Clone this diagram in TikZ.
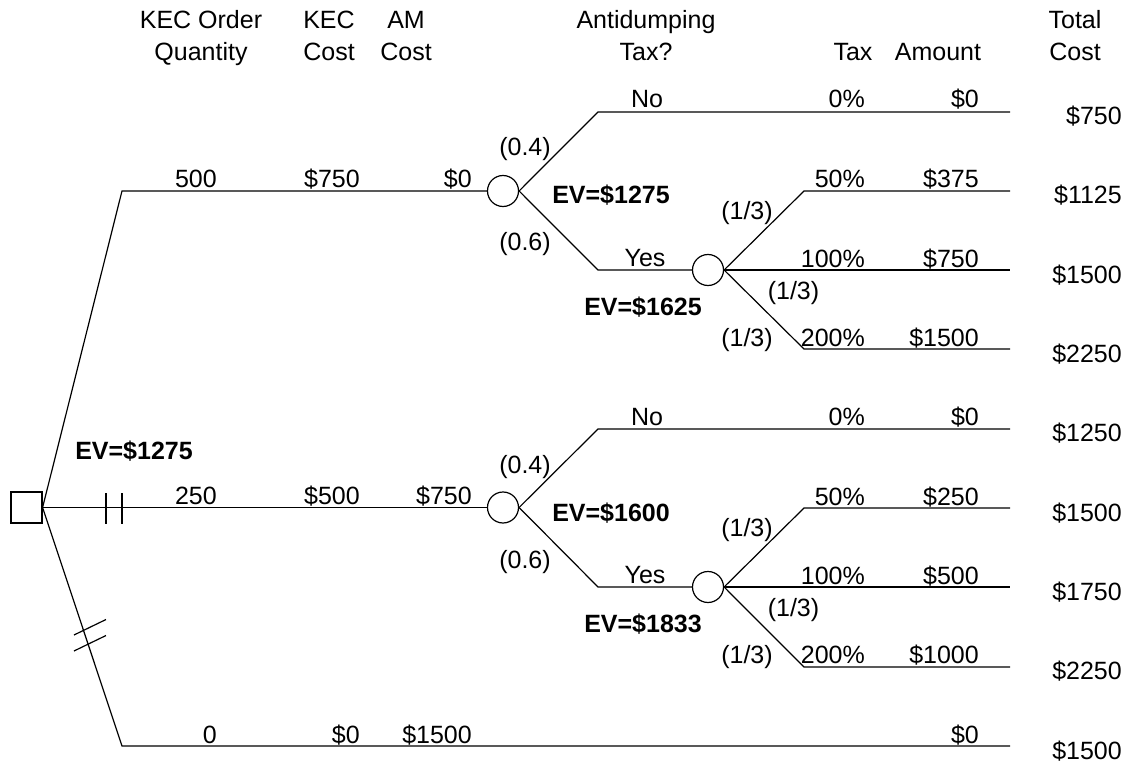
\documentclass[tikz,border=0pt]{standalone}
\usepackage{fontspec}
\setmainfont{Liberation Sans}
\begin{document}
\begin{tikzpicture}[x=1pt,y=-1pt,
  font=\fontsize{25}{32}\selectfont,
  br/.style={line width=1.2pt},
  lbl/.style={anchor=base east, inner sep=0pt},
  lblc/.style={anchor=base, inner sep=0pt},
  hdr/.style={anchor=base, inner sep=0pt, align=center},
  ev/.style={anchor=base, inner sep=0pt, font=\fontsize{25}{32}\selectfont\bfseries},
  chance/.style={circle, draw, line width=1.2pt, minimum size=31pt, inner sep=0pt},
  decision/.style={rectangle, draw, line width=1.2pt, minimum size=31pt, inner sep=0pt}]
\useasboundingbox (0,0) rectangle (1128,765);

% headers (base anchor = baseline of last line)
\node[hdr] (h1) at (201,61) {KEC Order\\Quantity};
\node[hdr] (h2) at (329,61) {KEC\\Cost};
\node[hdr] (h3) at (406,61) {AM\\Cost};
\node[hdr] (h4) at (646,61) {Antidumping\\Tax?};
\node[hdr] (h5) at (853,61) {Tax};
\node[hdr] (h6) at (938,61) {Amount};
\node[hdr] (h7) at (1075,61) {Total\\Cost};

% nodes
\node[decision] (d) at (26.5,507.5) {};
\node[chance] (c1) at (503,191) {};
\node[chance] (c2) at (708,270) {};
\node[chance] (c3) at (503,507.5) {};
\node[chance] (c4) at (708,587) {};

% bend and end coordinates
\coordinate (b1) at (122,191);
\coordinate (b3) at (122,746);
\coordinate (b3e) at (1010,746);
\coordinate (n1) at (598,112);
\coordinate (n1e) at (1010,112);
\coordinate (y1) at (598,270);
\coordinate (t1) at (804,191);
\coordinate (t1e) at (1010,191);
\coordinate (t2e) at (1010,270);
\coordinate (t3) at (804,349);
\coordinate (t3e) at (1010,349);
\coordinate (n2) at (598,429);
\coordinate (n2e) at (1010,429);
\coordinate (y2) at (598,587);
\coordinate (u1) at (804,508);
\coordinate (u1e) at (1010,508);
\coordinate (u2e) at (1010,587);
\coordinate (u3) at (804,667);
\coordinate (u3e) at (1010,667);

% branches
\draw[br] (d.east) -- (b1) -- (c1.west);
\draw[br] (d.east) -- (c3.west);
\draw[br] (d.east) -- (b3) -- (b3e);
\draw[br] (c1.east) -- (n1) -- (n1e);
\draw[br] (c1.east) -- (y1) -- (c2.west);
\draw[br] (c2.east) -- (t1) -- (t1e);
\draw[br] (c2.east) -- (t2e);
\draw[br] (c2.east) -- (t3) -- (t3e);
\draw[br] (c3.east) -- (n2) -- (n2e);
\draw[br] (c3.east) -- (y2) -- (c4.west);
\draw[br] (c4.east) -- (u1) -- (u1e);
\draw[br] (c4.east) -- (u2e);
\draw[br] (c4.east) -- (u3) -- (u3e);

% blocking ticks
\coordinate (k1a) at (106,493); \coordinate (k1b) at (106,524);
\coordinate (k2a) at (122,493); \coordinate (k2b) at (122,524);
\coordinate (k3a) at (74,635);  \coordinate (k3b) at (106,619.5);
\coordinate (k4a) at (74,651);  \coordinate (k4b) at (106,635.5);
\draw[br] (k1a) -- (k1b);
\draw[br] (k2a) -- (k2b);
\draw[br] (k3a) -- (k3b);
\draw[br] (k4a) -- (k4b);

% decision labels
\node[ev] (evd) at (134,459) {EV=\$1275};
\node[lbl] (q1) at (217,188) {500};
\node[lbl] (k1) at (360,188) {\$750};
\node[lbl] (a1) at (472,188) {\$0};
\node[lbl] (q2) at (217,504.5) {250};
\node[lbl] (k2) at (360,504.5) {\$500};
\node[lbl] (a2) at (472,504.5) {\$750};
\node[lbl] (q3) at (217,743) {0};
\node[lbl] (k3) at (360,743) {\$0};
\node[lbl] (a3) at (472,743) {\$1500};
\node[lbl] (m3) at (979,743) {\$0};
\node[lbl] (tc9) at (1122,759) {\$1500};

% upper chance section
\node[lblc] (p1) at (525,156) {(0.4)};
\node[lblc] (p2) at (525,251) {(0.6)};
\node[lblc] (no1) at (647,108) {No};
\node[lblc] (yes1) at (645,266.5) {Yes};
\node[ev] (ev1) at (611,204) {EV=\$1275};
\node[ev] (ev2) at (643,315) {EV=\$1625};
\node[lblc] (p3) at (747,219) {(1/3)};
\node[lblc] (p4) at (793.5,299) {(1/3)};
\node[lblc] (p5) at (747,346) {(1/3)};
\node[lbl] (x1) at (865,108) {0\%};
\node[lbl] (m1) at (979,108) {\$0};
\node[lbl] (tc1) at (1122,124.5) {\$750};
\node[lbl] (x2) at (865,188) {50\%};
\node[lbl] (m2) at (979,188) {\$375};
\node[lbl] (tc2) at (1122,204) {\$1125};
\node[lbl] (x3) at (865,267) {100\%};
\node[lbl] (m3u) at (979,267) {\$750};
\node[lbl] (tc3) at (1122,283) {\$1500};
\node[lbl] (x4) at (865,346) {200\%};
\node[lbl] (m4) at (979,346) {\$1500};
\node[lbl] (tc4) at (1122,362) {\$2250};

% lower chance section
\node[lblc] (p6) at (525,473) {(0.4)};
\node[lblc] (p7) at (525,568) {(0.6)};
\node[lblc] (no2) at (647,425) {No};
\node[lblc] (yes2) at (645,583.5) {Yes};
\node[ev] (ev3) at (611,521) {EV=\$1600};
\node[ev] (ev4) at (643,632) {EV=\$1833};
\node[lblc] (p8) at (747,536) {(1/3)};
\node[lblc] (p9) at (793.5,616) {(1/3)};
\node[lblc] (p10) at (747,663) {(1/3)};
\node[lbl] (x5) at (865,425) {0\%};
\node[lbl] (m5) at (979,425) {\$0};
\node[lbl] (tc5) at (1122,441.5) {\$1250};
\node[lbl] (x6) at (865,505) {50\%};
\node[lbl] (m6) at (979,505) {\$250};
\node[lbl] (tc6) at (1122,521) {\$1500};
\node[lbl] (x7) at (865,584) {100\%};
\node[lbl] (m7) at (979,584) {\$500};
\node[lbl] (tc7) at (1122,600) {\$1750};
\node[lbl] (x8) at (865,663) {200\%};
\node[lbl] (m8) at (979,663) {\$1000};
\node[lbl] (tc8) at (1122,679) {\$2250};
\end{tikzpicture}
\end{document}
